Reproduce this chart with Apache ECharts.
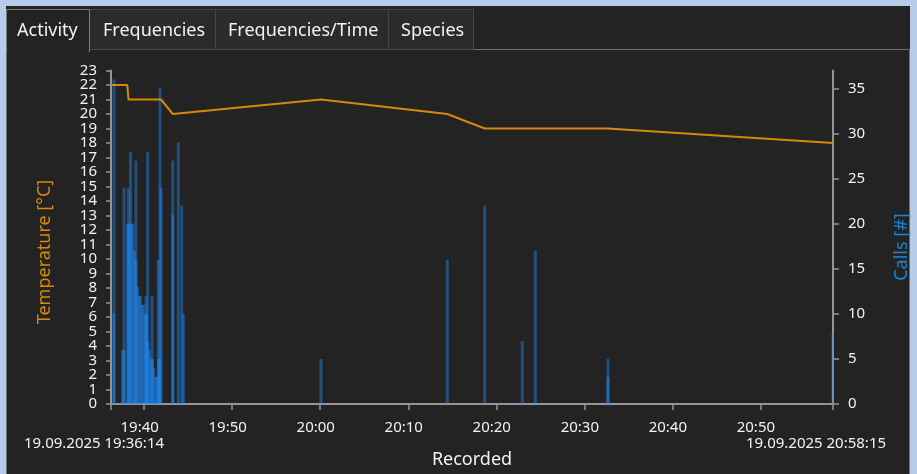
<!DOCTYPE html>
<html>
<head>
<meta charset="utf-8">
<script src="https://cdn.jsdelivr.net/npm/echarts@6/dist/echarts.min.js"></script>
<style>
html,body{margin:0;padding:0;background:#b8cce9;}
#c{width:917px;height:474px;}
</style>
</head>
<body>
<div id="c"></div>
<script>
// ---- data ----
const recordDate = [2025, 9, 19];
const recordStart = '19:36:14';
const recordEnd = '20:58:15';
const startLabel = '19.09.2025 19:36:14';
const endLabel = '19.09.2025 20:58:15';
const tabLabels = ['Activity', 'Frequencies', 'Frequencies/Time', 'Species'];
const timeTickLabels = ['19:40', '19:50', '20:00', '20:10', '20:20', '20:30', '20:40', '20:50'];
const tempTicksOdd = [1,3,5,7,9,11,13,15,17,19,21,23];
const tempTicksEven = [0,2,4,6,8,10,12,14,16,18,20,22];
const callTicks = [0, 5, 10, 15, 20, 25, 30, 35];

const tempTimes = ['19:36:14','19:38:05','19:38:13','19:41:55','19:43:15','20:00:05','20:14:26','20:18:41','20:32:41','20:58:15'];
const tempValues = [22, 22, 21, 21, 20, 21, 20, 19, 19, 18];

const callTimes = [
  '19:36:34','19:36:34','19:37:32','19:37:43','19:37:43','19:38:06','19:38:13','19:38:17','19:38:27','19:38:34',
  '19:38:44','19:38:54','19:39:04','19:39:04','19:39:15','19:39:25','19:39:35','19:39:45','19:39:56','19:40:06',
  '19:40:13','19:40:16','19:40:24','19:40:26','19:40:36','19:40:47','19:40:53','19:40:57','19:41:07','19:41:17',
  '19:41:28','19:41:36','19:41:38','19:41:48','19:41:48','19:41:55','19:43:15','19:43:15','19:43:53','19:44:16',
  '19:44:27','20:00:05','20:14:26','20:18:41','20:22:57','20:24:26','20:32:41','20:32:41','20:58:15'
];
const callCounts = [
  36, 10, 6, 24, 6, 20, 24, 20, 28, 20,
  20, 17, 27, 16, 13, 12, 12, 11, 11, 10,
  12, 10, 28, 7, 6, 5, 12, 5, 4, 3,
  3, 16, 5, 35, 5, 24, 27, 21, 29, 22,
  10, 5, 16, 22, 7, 17, 5, 3, 8
];

const tempAxisMax = 23;
const callsAxisMax = 37;

// ---- helpers ----
function toMs(hms) {
  const p = hms.split(':').map(Number);
  return new Date(recordDate[0], recordDate[1] - 1, recordDate[2], p[0], p[1], p[2] || 0).getTime();
}
function pad(n) { return (n < 10 ? '0' : '') + n; }

const xMin = toMs(recordStart);
const xMax = toMs(recordEnd);
const labelValues = timeTickLabels.map(toMs);
const tickValues = [xMin].concat(labelValues, [xMax]);
const FONT = 'Noto Sans';
const ORANGE = '#d4880c';
const BLUE = '#1f82d4';
const AXIS = '#959595';
const TXT = '#f2f2f2';

const tabX = [7, 89, 215, 388, 473];
const graphics = [
  { type: 'rect', z: -10, silent: true, shape: { x: 6, y: 6, width: 904, height: 468 }, style: { fill: '#232323' } },
  { type: 'rect', z: -9, silent: true, shape: { x: 6.5, y: 49.5, width: 903, height: 430 }, style: { fill: 'none', stroke: '#6e6e6e', lineWidth: 1 } }
];
for (let i = 1; i < tabLabels.length; i++) {
  graphics.push({ type: 'rect', z: -8, silent: true,
    shape: { x: tabX[i] + 0.5, y: 9.5, width: tabX[i + 1] - tabX[i], height: 40 },
    style: { fill: '#2b2b2b', stroke: '#454545', lineWidth: 1 } });
}
graphics.push({ type: 'rect', z: -7, silent: true, shape: { x: 6.5, y: 9.5, width: 83, height: 42 }, style: { fill: '#232323', stroke: '#7c7c7c', lineWidth: 1 } });
graphics.push({ type: 'rect', z: -6, silent: true, shape: { x: 7.5, y: 48, width: 81, height: 4 }, style: { fill: '#232323' } });
const tabTextX = [17, 103, 228, 401];
tabLabels.forEach((t, i) => {
  graphics.push({ type: 'text', z: -5, silent: true, x: tabTextX[i], y: 31,
    style: { text: t, fill: TXT, font: '18px "' + FONT + '"', align: 'left', verticalAlign: 'middle' } });
});
graphics.push({ type: 'text', silent: true, x: 94, y: 444,
  style: { text: startLabel, fill: TXT, font: '15px "' + FONT + '"', align: 'center', verticalAlign: 'middle' } });
graphics.push({ type: 'text', silent: true, x: 816, y: 444,
  style: { text: endLabel, fill: TXT, font: '15px "' + FONT + '"', align: 'center', verticalAlign: 'middle' } });
graphics.push({ type: 'text', silent: true, x: 45, y: 252, rotation: Math.PI / 2,
  style: { text: 'Temperature [°C]', fill: ORANGE, font: '18px "' + FONT + '"', align: 'center', verticalAlign: 'middle' } });
graphics.push({ type: 'text', silent: true, x: 902, y: 247, rotation: Math.PI / 2,
  style: { text: 'Calls [#]', fill: BLUE, font: '18px "' + FONT + '"', align: 'center', verticalAlign: 'middle' } });

function tempLabels(values) {
  return { customValues: values, color: TXT, fontSize: 15, fontFamily: FONT, margin: 14,
    hideOverlap: false, showMinLabel: true, showMaxLabel: true };
}

const chart = echarts.init(document.getElementById('c'), null, { renderer: 'canvas' });
chart.setOption({
  animation: false,
  backgroundColor: '#b8cce9',
  graphic: graphics,
  grid: { left: 111, right: 84, top: 70.5, bottom: 68 },
  xAxis: {
    type: 'value',
    min: xMin,
    max: xMax,
    scale: true,
    name: 'Recorded',
    nameLocation: 'middle',
    nameGap: 47,
    nameTextStyle: { color: TXT, fontSize: 18, fontFamily: FONT },
    axisLine: { show: true, lineStyle: { color: AXIS, width: 2 } },
    axisTick: { show: true, length: 6, customValues: tickValues, lineStyle: { color: AXIS, width: 1.5 } },
    splitLine: { show: false },
    axisLabel: {
      color: TXT, fontSize: 15, fontFamily: FONT, margin: 16, hideOverlap: false,
      customValues: labelValues,
      padding: [0, 9, 0, 0],
      formatter: function (v) {
        const d = new Date(v);
        return pad(d.getHours()) + ':' + pad(d.getMinutes());
      }
    }
  },
  yAxis: [
    {
      type: 'value', position: 'left', min: 0, max: tempAxisMax, interval: 1,
      axisLine: { show: true, lineStyle: { color: AXIS, width: 2 } },
      axisTick: { show: true, length: 5, customValues: tempTicksEven.concat(tempTicksOdd), lineStyle: { color: AXIS, width: 1.5 } },
      splitLine: { show: false },
      axisLabel: tempLabels(tempTicksOdd)
    },
    {
      type: 'value', position: 'right', min: 0, max: callsAxisMax, interval: 5,
      axisLine: { show: true, lineStyle: { color: AXIS, width: 2 } },
      axisTick: { show: true, length: 6, customValues: callTicks, lineStyle: { color: AXIS, width: 1.5 } },
      splitLine: { show: false },
      axisLabel: { color: TXT, fontSize: 15, fontFamily: FONT, margin: 15, customValues: callTicks }
    },
    {
      type: 'value', position: 'left', offset: 0, min: 0, max: tempAxisMax, interval: 1,
      axisLine: { show: false },
      axisTick: { show: false },
      splitLine: { show: false },
      axisLabel: tempLabels(tempTicksEven)
    }
  ],
  series: [
    {
      name: 'Calls',
      type: 'bar',
      yAxisIndex: 1,
      barWidth: 3,
      z: 2,
      itemStyle: { color: 'rgba(30,144,255,0.42)' },
      data: callTimes.map((t, i) => [toMs(t), callCounts[i]])
    },
    {
      name: 'Temperature',
      type: 'line',
      yAxisIndex: 0,
      showSymbol: false,
      z: 3,
      lineStyle: { color: ORANGE, width: 2 },
      data: tempTimes.map((t, i) => [toMs(t), tempValues[i]])
    }
  ]
});
</script>
</body>
</html>
